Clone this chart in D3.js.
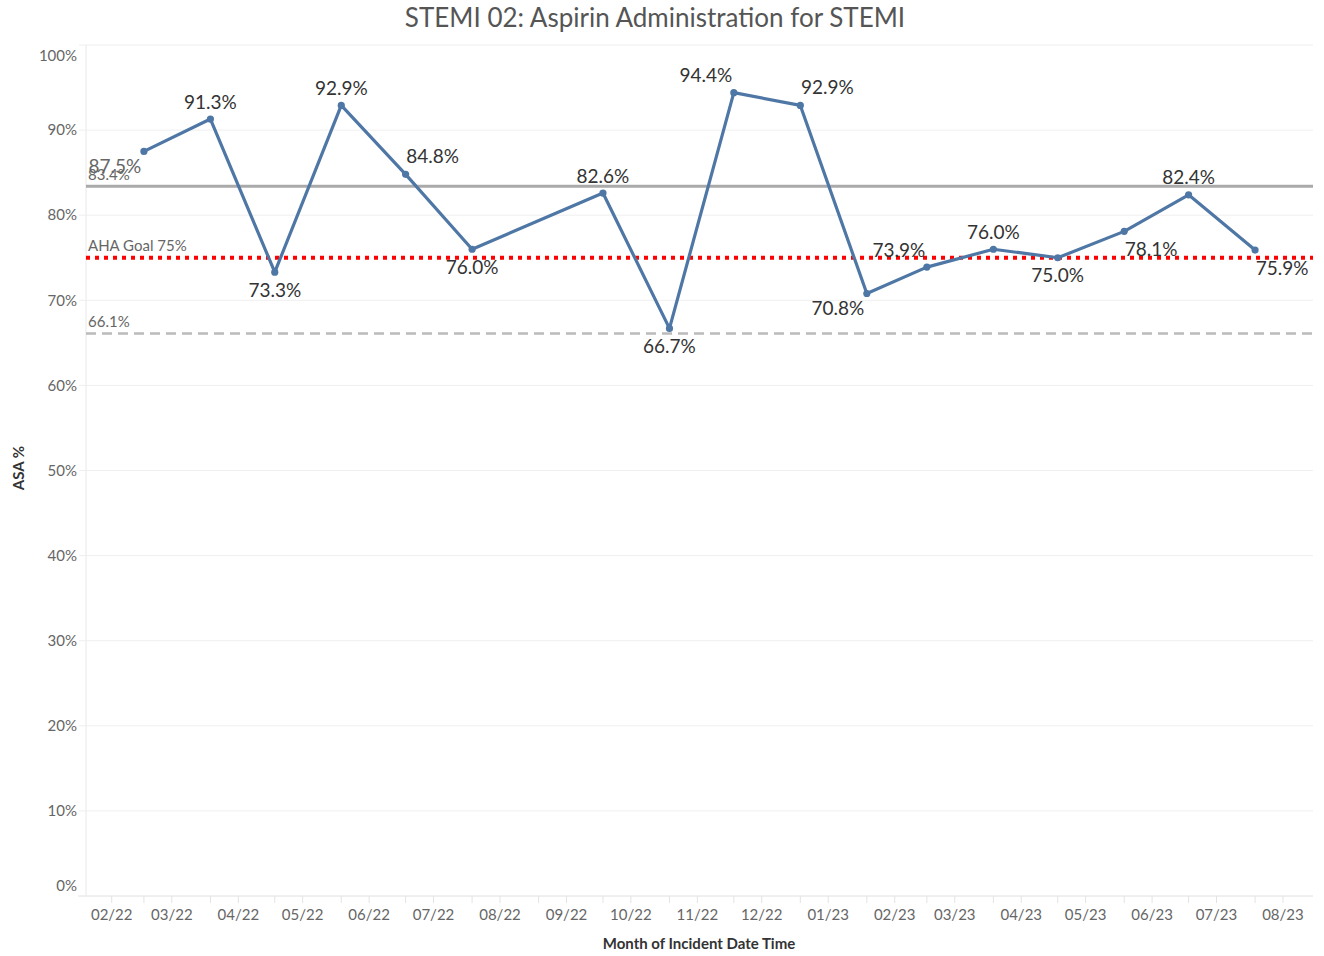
<!DOCTYPE html>
<html>
<head>
<meta charset="utf-8">
<script src="https://cdn.jsdelivr.net/npm/d3@7"></script>
<style>
  html, body { margin: 0; padding: 0; background: #fff; }
  svg { display: block; font-family: Lato, "Open Sans", sans-serif; }
</style>
</head>
<body>
<svg id="chart" width="1324" height="956"></svg>
<script>
// ---- data ----
const months = ["2022-03-01","2022-04-01","2022-05-01","2022-06-01","2022-07-01","2022-08-01",
                "2022-10-01","2022-11-01","2022-12-01","2023-01-01","2023-02-01","2023-03-01",
                "2023-04-01","2023-05-01","2023-06-01","2023-07-01","2023-08-01"];
const asaPct = [87.5, 91.3, 73.3, 92.9, 84.8, 76.0, 82.6, 66.7, 94.4, 92.9, 70.8, 73.9, 76.0, 75.0, 78.1, 82.4, 75.9];
const labelSide = ["sw","n","s","n","ne","s","n","s","nw","ne","sw","nw","n","s","se","n","se"];
const tickLabels = ["02/22","03/22","04/22","05/22","06/22","07/22","08/22","09/22","10/22","11/22",
                    "12/22","01/23","02/23","03/23","04/23","05/23","06/23","07/23","08/23"];
const yTicks = [0,10,20,30,40,50,60,70,80,90,100];
const refValues = [83.4, 75, 66.1];
const refLabels = ["83.4%", "AHA Goal 75%", "66.1%"];
const refKinds = ["solid", "goal", "dashed"];
const title = "STEMI 02: Aspirin Administration for STEMI";
const xTitle = "Month of Incident Date Time";
const yTitle = "ASA %";

// ---- setup ----
const svg = d3.select("#chart");
const parse = d3.timeParse("%Y-%m-%d");
const parseTick = d3.timeParse("%m/%y");
const data = months.map((m, i) => ({ date: parse(m), v: asaPct[i], side: labelSide[i] }));

const plot = { left: 86, right: 1313, top: 45, bottom: 896 };
const x = d3.scaleTime()
  .domain([new Date(2022, 1, 2), new Date(2023, 7, 28)])
  .range([plot.left, plot.right]);
const y = d3.scaleLinear().domain([0, 100]).range([plot.bottom, plot.top]);

// title
svg.append("text")
  .attr("x", 655).attr("y", 27)
  .attr("text-anchor", "middle")
  .attr("font-size", 26).attr("fill", "#555")
  .text(title);

// horizontal gridlines
svg.append("g").selectAll("line").data(yTicks).join("line")
  .attr("x1", plot.left).attr("x2", plot.right)
  .attr("y1", d => y(d)).attr("y2", d => y(d))
  .attr("stroke", "#efefef").attr("stroke-width", 1);

// y axis (left line + ticks + labels)
svg.append("line")
  .attr("x1", plot.left).attr("x2", plot.left)
  .attr("y1", plot.top).attr("y2", plot.bottom)
  .attr("stroke", "#e8e8e8");
const yg = svg.append("g");
yg.selectAll("line").data(yTicks).join("line")
  .attr("x1", plot.left - 7).attr("x2", plot.left)
  .attr("y1", d => y(d)).attr("y2", d => y(d))
  .attr("stroke", "#efefef");
yg.selectAll("text").data(yTicks).join("text")
  .attr("x", 77)
  .attr("y", d => y(d) + (d === 100 ? 11 : d === 0 ? -10 : 0))
  .attr("dy", "0.35em")
  .attr("text-anchor", "end")
  .attr("font-size", 15).attr("fill", "#666")
  .text(d => d + "%");

// x axis line
svg.append("line")
  .attr("x1", plot.left - 8).attr("x2", plot.right)
  .attr("y1", plot.bottom).attr("y2", plot.bottom)
  .attr("stroke", "#e8e8e8");

// x ticks: month starts and labelled mid-month marks
const tickDates = tickLabels.map(t => parseTick(t));
const monthStarts = tickDates.filter(d => x(d) >= plot.left && x(d) <= plot.right);
const monthMids = tickDates.map(d => d3.timeDay.offset(d, 13));
const xg = svg.append("g");
xg.selectAll("line").data(monthStarts.concat(monthMids)).join("line")
  .attr("x1", d => x(d)).attr("x2", d => x(d))
  .attr("y1", plot.bottom).attr("y2", plot.bottom + 7)
  .attr("stroke", "#e3e3e3");
xg.selectAll("text").data(tickLabels).join("text")
  .attr("x", (t, i) => x(monthMids[i]))
  .attr("y", 915).attr("dy", "0.35em")
  .attr("text-anchor", "middle")
  .attr("font-size", 15).attr("fill", "#666")
  .text(t => t);

// axis titles
svg.append("text")
  .attr("x", 699).attr("y", 944).attr("dy", "0.35em")
  .attr("text-anchor", "middle")
  .attr("font-size", 15).attr("font-weight", "bold").attr("fill", "#333")
  .text(xTitle);
svg.append("text")
  .attr("transform", "translate(19,468) rotate(-90)")
  .attr("dy", "0.35em")
  .attr("text-anchor", "middle")
  .attr("font-size", 15).attr("font-weight", "bold").attr("fill", "#333")
  .text(yTitle);

// reference lines
const refStyle = {
  solid:  { stroke: "#aaaaaa", width: 3, dash: null },
  goal:   { stroke: "#ff0000", width: 4, dash: "4,5" },
  dashed: { stroke: "#bbbbbb", width: 2.5, dash: "10,6" }
};
const rg = svg.append("g");
refValues.forEach((v, i) => {
  const s = refStyle[refKinds[i]];
  rg.append("line")
    .attr("x1", plot.left).attr("x2", plot.right)
    .attr("y1", y(v)).attr("y2", y(v))
    .attr("stroke", s.stroke).attr("stroke-width", s.width)
    .attr("stroke-dasharray", s.dash);
  rg.append("text")
    .attr("x", 88).attr("y", y(v) - 12).attr("dy", "0.35em")
    .attr("font-size", 15).attr("fill", "#666")
    .text(refLabels[i]);
});

// line + points
const color = "#4f77a5";
svg.append("path").datum(data)
  .attr("fill", "none").attr("stroke", color).attr("stroke-width", 3.2)
  .attr("stroke-linejoin", "round")
  .attr("d", d3.line().x(d => x(d.date)).y(d => y(d.v)));
svg.append("g").selectAll("circle").data(data).join("circle")
  .attr("cx", d => x(d.date)).attr("cy", d => y(d.v)).attr("r", 3.6)
  .attr("fill", color);

// data labels
const off = {
  n: [0, -17], s: [0, 18], ne: [27, -18], nw: [-28, -17], se: [27, 18], sw: [-29, 15]
};
svg.append("g").selectAll("text").data(data).join("text")
  .attr("x", d => x(d.date) + off[d.side][0])
  .attr("y", d => y(d.v) + off[d.side][1])
  .attr("dy", "0.35em")
  .attr("text-anchor", "middle")
  .attr("font-size", 19).attr("fill", d => d.side === "sw" && d.v > 85 ? "#666" : "#333")
  .text(d => d.v.toFixed(1) + "%");
</script>
</body>
</html>
